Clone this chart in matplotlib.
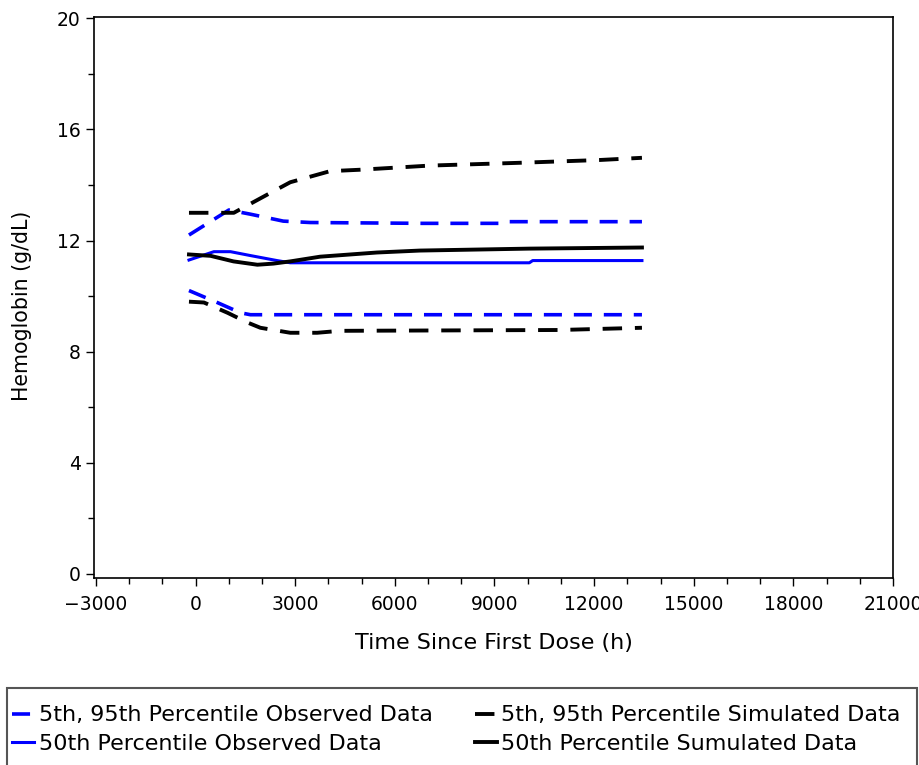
import matplotlib
matplotlib.use("Agg")
import matplotlib.pyplot as plt
from matplotlib.patches import Rectangle
from matplotlib.ticker import MultipleLocator

plt.rcParams['font.family'] = ['DejaVu Sans']

# observed data percentiles
obs_hi_t = [-200, 1000, 1650, 2640, 3450, 6840, 9240, 9300, 13440]
obs_hi = [12.2, 13.1, 12.95, 12.7, 12.65, 12.62, 12.62, 12.68, 12.68]
obs_lo_t = [-200, 650, 1350, 1650, 13440]
obs_lo = [10.2, 9.77, 9.4, 9.33, 9.33]
obs_med_t = [-200, 550, 1050, 1650, 2450, 2850, 10050, 10150, 13440]
obs_med = [11.3, 11.6, 11.6, 11.46, 11.28, 11.2, 11.2, 11.28, 11.28]

# simulated data percentiles
sim_hi_t = [-200, 1150, 2150, 2850, 4050, 4950, 7050, 9750, 12150, 13440]
sim_hi = [13.0, 13.0, 13.65, 14.1, 14.5, 14.55, 14.7, 14.8, 14.9, 14.98]
sim_lo_t = [-200, 250, 960, 1560, 1950, 2850, 3660, 4350, 10950, 13440]
sim_lo = [9.8, 9.77, 9.4, 9.05, 8.86, 8.68, 8.68, 8.75, 8.78, 8.86]
sim_med_t = [-200, 450, 1140, 1860, 2340, 2850, 3750, 5460, 6750, 10050, 13440]
sim_med = [11.5, 11.45, 11.25, 11.13, 11.17, 11.25, 11.42, 11.57, 11.64, 11.71, 11.75]

fig = plt.figure(figsize=(9.19, 7.65), dpi=100)
ax = fig.add_axes([94 / 919, 187 / 765, 799 / 919, 561 / 765])

dash = (0, (5, 3.3))
l1, = ax.plot(obs_hi_t, obs_hi, color='#0000ff', lw=2.6, linestyle=dash)
ax.plot(obs_lo_t, obs_lo, color='#0000ff', lw=2.6, linestyle=dash)
l3, = ax.plot(sim_hi_t, sim_hi, color='black', lw=2.8, linestyle=dash)
ax.plot(sim_lo_t, sim_lo, color='black', lw=2.8, linestyle=dash)
l2, = ax.plot(obs_med_t, obs_med, color='#0000ff', lw=2.2)
l4, = ax.plot(sim_med_t, sim_med, color='black', lw=2.8)

ax.set_xlim(-3060, 21000)
ax.set_ylim(-0.15, 20.05)
ax.xaxis.set_major_locator(MultipleLocator(3000))
ax.xaxis.set_minor_locator(MultipleLocator(1000))
ax.yaxis.set_major_locator(MultipleLocator(4))
ax.yaxis.set_minor_locator(MultipleLocator(2))
ax.tick_params(which='major', length=6, width=1, labelsize=13.5, direction='out')
ax.tick_params(axis='x', pad=6)
ax.tick_params(which='minor', length=4, width=1, direction='out')
for s in ax.spines.values():
    s.set_linewidth(1.2)

ax.set_xlabel('Time Since First Dose (h)', fontsize=16, labelpad=14)
ax.set_ylabel('Hemoglobin (g/dL)', fontsize=14.8)
ax.yaxis.set_label_coords(-0.077, 0.485)

fig.patches.append(Rectangle((7 / 919, -0.02), 0.99, 0.1207, transform=fig.transFigure,
                             fill=False, edgecolor='#555555', lw=1.5))

fig.legend([l1, l2, l3, l4],
           ['5th, 95th Percentile Observed Data', '50th Percentile Observed Data',
            '5th, 95th Percentile Simulated Data', '50th Percentile Sumulated Data'],
           ncol=2, loc='upper left', bbox_to_anchor=(12 / 919, 0.078),
           frameon=False, fontsize=16, handlelength=1.0, handletextpad=0.2,
           columnspacing=1.9, labelspacing=0.38, borderaxespad=0, borderpad=0)

fig.savefig('out.png', dpi=100)
